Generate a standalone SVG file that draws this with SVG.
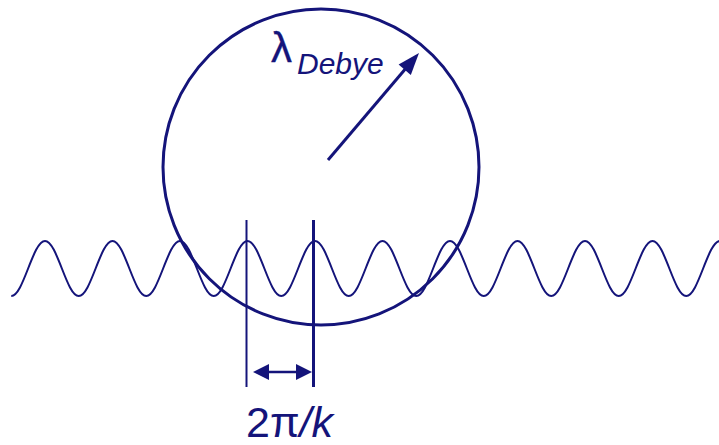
<svg xmlns="http://www.w3.org/2000/svg" width="719" height="445" viewBox="0 0 719 445">
  <style>
    .ln { fill: none; stroke: #14147a; stroke-linecap: butt; }
    .hd { fill: #14147a; stroke: none; }
    .tx { fill: #14147a; font-family: "Liberation Sans", Arial, sans-serif; }
  </style>
  <rect width="719" height="445" fill="#ffffff"/>
  <g id="debye-sphere">
    <circle class="ln" cx="321" cy="167" r="158" stroke-width="3"/>
  </g>
  <g id="wave">
    <path class="ln" stroke-width="2" d="M11.25,296 c12.27,0 21.48,-55 33.75,-55 s21.48,55 33.75,55 s21.48,-55 33.75,-55 s21.48,55 33.75,55 s21.48,-55 33.75,-55 s21.48,55 33.75,55 s21.48,-55 33.75,-55 s21.48,55 33.75,55 s21.48,-55 33.75,-55 s21.48,55 33.75,55 s21.48,-55 33.75,-55 s21.48,55 33.75,55 s21.48,-55 33.75,-55 s21.48,55 33.75,55 s21.48,-55 33.75,-55 s21.48,55 33.75,55 s21.48,-55 33.75,-55 s21.48,55 33.75,55 s21.48,-55 33.75,-55 s21.48,55 33.75,55 s21.48,-55 33.75,-55"/>
  </g>
  <g id="connectors">
    <g id="radius-arrow">
      <line class="ln" stroke-width="3" x1="328" y1="160" x2="407" y2="67"/>
      <polygon class="hd" points="419,53 410.8,75 398.6,64.6"/>
    </g>
    <g id="wavelength-markers">
      <line class="ln" stroke-width="2" x1="246.5" y1="220" x2="246.5" y2="387"/>
      <line class="ln" stroke-width="3" x1="313.5" y1="220" x2="313.5" y2="387"/>
      <line class="ln" stroke-width="2.5" x1="262" y1="372" x2="303" y2="372"/>
      <polygon class="hd" points="253,372 269,364 269,380"/>
      <polygon class="hd" points="312,372 296,364 296,380"/>
    </g>
  </g>
  <g id="label-debye">
    <text class="tx" x="271" y="62" font-size="42" stroke="#14147a" stroke-width="0.3">λ</text>
    <text class="tx" x="297" y="74" font-size="30" font-style="italic">Debye</text>
  </g>
  <g id="label-wavelength">
    <text class="tx" x="246" y="437" font-size="43">2π<tspan font-style="italic">/k</tspan></text>
  </g>
</svg>
